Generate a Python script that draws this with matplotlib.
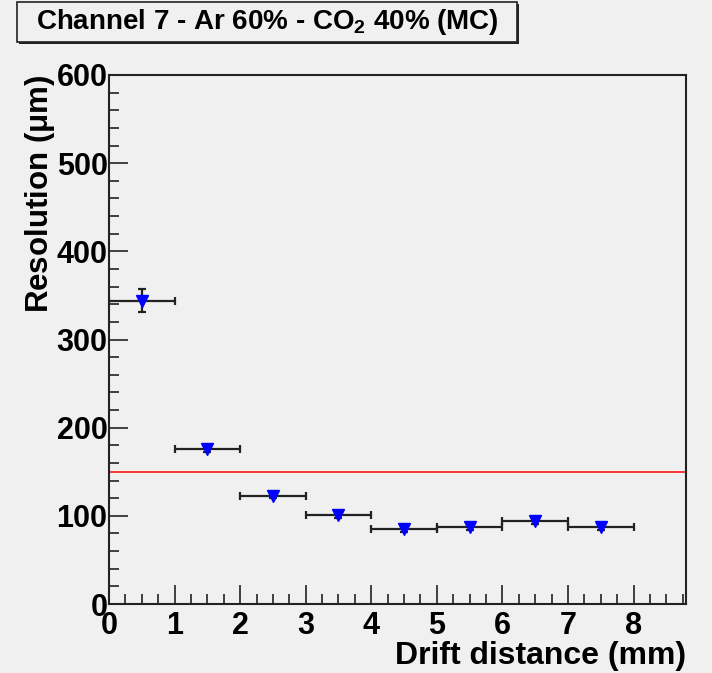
import numpy as np
import matplotlib
matplotlib.use("Agg")
import matplotlib.pyplot as plt
from matplotlib.patches import Rectangle
from matplotlib.ticker import MultipleLocator

plt.rcParams["font.family"] = ["Liberation Sans", "DejaVu Sans"]
plt.rcParams["font.weight"] = "bold"
plt.rcParams["mathtext.fontset"] = "custom"
plt.rcParams["mathtext.rm"] = "Liberation Sans:bold"
plt.rcParams["mathtext.it"] = "Liberation Sans:bold"
plt.rcParams["mathtext.bf"] = "Liberation Sans:bold"

BG = "#f0f0f0"

# binned resolution vs drift distance
drift = [0.5, 1.5, 2.5, 3.5, 4.5, 5.5, 6.5, 7.5]
bin_half = [0.5, 0.5, 0.5, 0.5, 0.5, 0.5, 0.5, 0.5]
resol = [344, 176, 123, 101, 85, 87, 94, 87]
resol_err = [13, 4, 3, 3, 3, 3, 3, 3]
target = 150   # reference level (um)

W, H = 712, 673
fig = plt.figure(figsize=(W / 100, H / 100), dpi=100, facecolor=BG)
ax = fig.add_axes([109 / W, 1 - 604 / H, (686 - 109) / W, (604 - 75) / H])
ax.set_facecolor(BG)

ax.errorbar(drift, resol, xerr=bin_half, yerr=resol_err, fmt="none",
            ecolor="#222222", elinewidth=1.6, capsize=3, capthick=1.6, zorder=2)
ax.plot(drift, resol, linestyle="none", marker="v", color="#0000ff",
        markersize=8, zorder=3)
ax.axhline(target, color="#ff0000", lw=1.1, zorder=1)

ax.set_xlim(0, 8.8)
ax.set_ylim(0, 600)
ax.xaxis.set_major_locator(MultipleLocator(1))
ax.xaxis.set_minor_locator(MultipleLocator(0.25))
ax.yaxis.set_major_locator(MultipleLocator(100))
ax.yaxis.set_minor_locator(MultipleLocator(20))
ax.tick_params(which="both", direction="in", top=False, right=False,
               color="#222222", width=1.2)
ax.tick_params(which="major", length=14, labelsize=22, pad=1)
ax.tick_params(which="minor", length=7)
ax.tick_params(axis="x", which="major", pad=5)
for lab in ax.get_xticklabels() + ax.get_yticklabels():
    lab.set_fontweight("bold")
for sp in ax.spines.values():
    sp.set_linewidth(1.5)
    sp.set_color("#222222")

ax.set_xlabel("Drift distance (mm)", fontsize=23, fontweight="bold",
              loc="right", labelpad=0)
ax.set_ylabel("Resolution ($\\mu$m)", fontsize=22.5, fontweight="bold",
              loc="top", labelpad=0)

# title box with shadow
fig.patches.append(Rectangle((19 / W, 1 - 44 / H), 500 / W, 40 / H,
                             transform=fig.transFigure, facecolor="#222222",
                             edgecolor="none", zorder=1))
fig.patches.append(Rectangle((17 / W, 1 - 42 / H), 500 / W, 40 / H,
                             transform=fig.transFigure, facecolor=BG,
                             edgecolor="#222222", lw=1.2, zorder=2))
fig.text(267 / W, 1 - 22 / H, "Channel 7 - Ar 60% - CO$_2$ 40% (MC)",
         ha="center", va="center", fontsize=20, fontweight="bold", zorder=3)

fig.savefig("out.png", dpi=100, facecolor=BG)
